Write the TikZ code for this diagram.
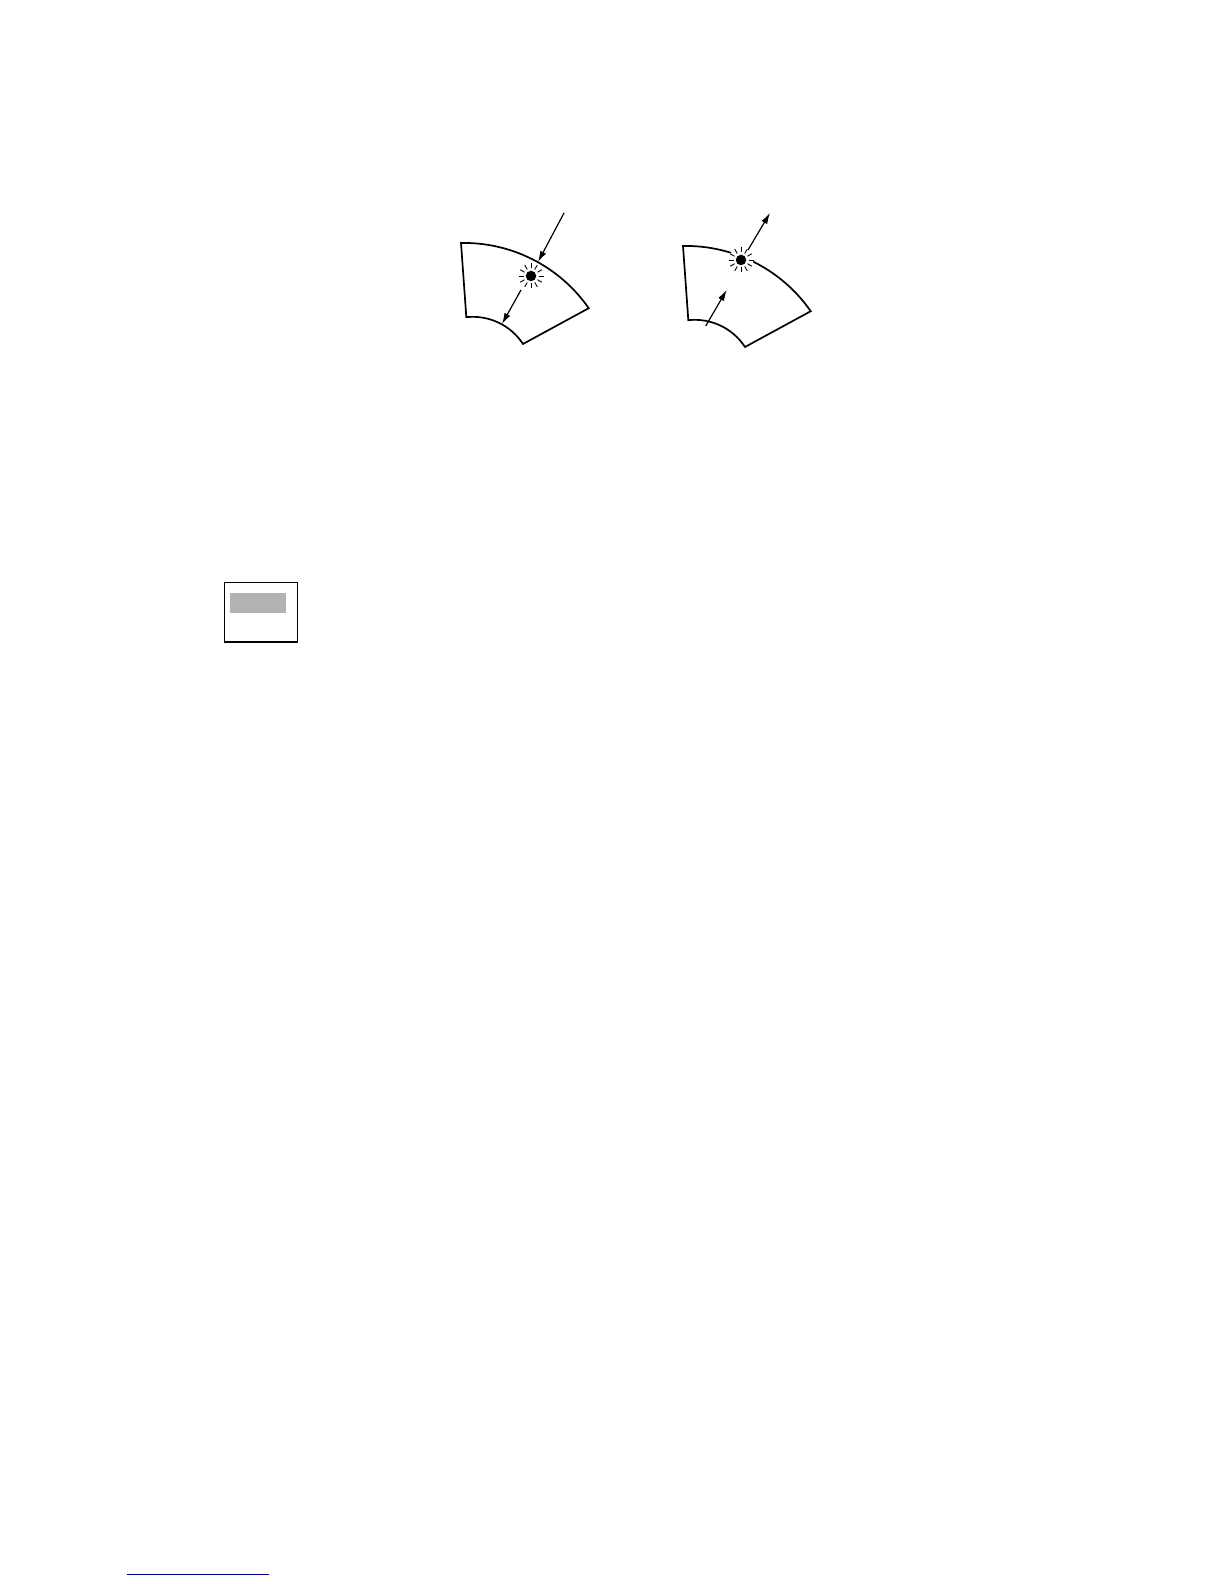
\documentclass[tikz,border=0pt]{standalone}
\usetikzlibrary{arrows.meta,calc}
\definecolor{boxgray}{RGB}{179,179,179}
\definecolor{linknavy}{RGB}{0,0,128}
\tikzset{
  fanline/.style={line width=1.7pt, line join=miter},
  ray/.style={line width=0.9pt},
  beam/.style={line width=1.2pt, -{Latex[length=11pt,width=6.5pt]}},
  spot/.style={circle, fill=black, inner sep=0pt, minimum size=10.5pt},
}
\newcommand{\fanshape}{%
  \draw[fanline] (461,1341) arc[start angle=91.1, end angle=34.8, radius=152]
    -- (523,1240) arc[start angle=33.2, end angle=96.2, radius=60] -- cycle;}
\newcommand{\halo}[1]{%
  \foreach \a in {0,30,...,330}{\draw[ray] ($(#1)+(\a:7.5)$) -- ($(#1)+(\a:12.5)$);}}
\begin{document}
\begin{tikzpicture}[x=1pt,y=1pt]
\useasboundingbox (0,0) rectangle (1224,1584);
% left fan
\fanshape
\coordinate (inA) at (564,1371);
\coordinate (inB) at (538,1322);
\coordinate (outA) at (521,1294);
\coordinate (outB) at (502,1260);
\draw[beam] (inA) -- (inB);
\draw[beam] (outA) -- (outB);
\node[spot] (dotL) at (531,1308) {};
\halo{dotL}
% right fan
\begin{scope}[shift={(222,-3)}]
\fanshape
\end{scope}
\fill[white] (741,1324) circle (12.5);
\node[spot] (dotR) at (741,1324) {};
\halo{dotR}
\coordinate (upA) at (748,1334);
\coordinate (upB) at (770,1371);
\coordinate (lowA) at (705.7,1258);
\coordinate (lowB) at (726.7,1294);
\draw[beam] (upA) -- (upB);
\draw[beam] (lowA) -- (lowB);
% small box
\node[draw, line width=1.2pt, minimum width=73pt, minimum height=59.3pt, inner sep=0pt] (frame) at (260.8,971.65) {};
\fill[boxgray] (230,970.7) rectangle (286,991.3);
% bottom link line
\coordinate (lkA) at (126.7,9);
\coordinate (lkB) at (269.3,9);
\draw[linknavy, line width=1pt] (lkA) -- (lkB);
\end{tikzpicture}
\end{document}
